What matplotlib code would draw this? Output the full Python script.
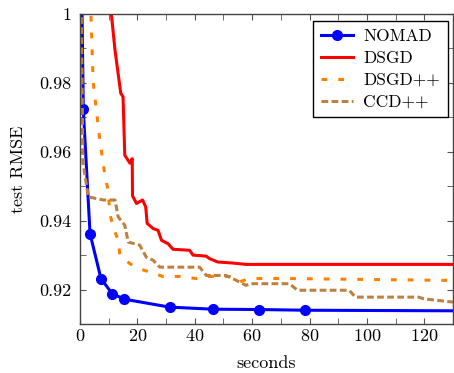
import matplotlib
matplotlib.use('Agg')
import matplotlib.pyplot as plt
from matplotlib.ticker import MultipleLocator, FuncFormatter

plt.rcParams['font.family'] = ['cmr10', 'DejaVu Serif']
plt.rcParams['axes.formatter.use_mathtext'] = True
plt.rcParams['font.size'] = 13

# NOMAD
nomad_t = [0.4, 1.15, 3.5, 7.3, 11.2, 15.5, 31.2, 46.3, 62.5, 78.4, 140]
nomad_y = [1.02, 0.9723, 0.9362, 0.9232, 0.9188, 0.9172, 0.9149, 0.9143, 0.9142, 0.9140,
           0.9138]

# DSGD
dsgd_t = [10.8, 12.2, 14.2, 15.0, 15.6, 17.4, 18.2, 18.3, 19.7, 21.8, 22.9, 23.4, 25.5,
          27.2, 28.4, 30.7, 32.4, 38.2, 39.4, 44.0, 45.1, 48.0, 53.2, 57.9, 135]
dsgd_y = [1.001, 0.9895, 0.977, 0.976, 0.959, 0.9567, 0.958, 0.9472, 0.945, 0.946, 0.944,
          0.9392, 0.9377, 0.9372, 0.9343, 0.9333, 0.9317, 0.9314, 0.930, 0.9297, 0.929,
          0.928, 0.9277, 0.9273, 0.9273]

# DSGD++
dsgdpp_t = [3.6, 4.6, 6.9, 8.7, 9.8, 10.4, 11.6, 13.3, 13.9, 17.4, 20.8, 24.3, 28.9,
            34.7, 40.5, 44.0, 52.0, 55.5, 59.0, 72.0, 135]
dsgdpp_y = [1.005, 0.980, 0.9634, 0.953, 0.9488, 0.942, 0.938, 0.9343, 0.930, 0.9275,
            0.926, 0.9251, 0.9238, 0.9238, 0.9232, 0.9238, 0.9238, 0.9222, 0.9232, 0.9232,
            0.9226]

# CCD++
ccdpp_t = [0.4, 0.6, 1.0, 2.9, 8.1, 12.2, 13.3, 15.6, 16.8, 20.8, 23.1, 25.5, 27.8, 41.7,
           44.0, 50.9, 54.4, 57.9, 59.0, 73.0, 75.8, 93.8, 96.0, 118.0, 119.8, 129.6, 135]
ccdpp_y = [1.002, 0.99, 0.957, 0.9469, 0.946, 0.946, 0.9411, 0.9387, 0.9338, 0.9329,
           0.9294, 0.9285, 0.9265, 0.9265, 0.9241, 0.9241, 0.9227, 0.9212, 0.9217, 0.9217,
           0.9198, 0.9198, 0.9178, 0.9178, 0.9173, 0.9164, 0.9162]

fig = plt.figure(figsize=(4.54, 3.73), dpi=100)
ax = fig.add_axes([80/454, 49/373, 373/454, 310/373])

ax.plot(nomad_t, nomad_y, color='#0000ff', lw=2.2, marker='o', ms=7, label='NOMAD')
ax.plot(dsgd_t, dsgd_y, color='#ff0000', lw=2.2, label='DSGD')
ax.plot(dsgdpp_t, dsgdpp_y, color='#ff8000', lw=2.2, ls=(0, (1.9, 3.6)), label='DSGD++')
ax.plot(ccdpp_t, ccdpp_y, color='#bf8040', lw=2.2, ls=(0, (2.2, 1.1)), label='CCD++')

ax.set_xlim(0, 130)
ax.set_ylim(0.91, 1.0)
ax.xaxis.set_major_locator(MultipleLocator(20))
ax.xaxis.set_minor_locator(MultipleLocator(10))
ax.yaxis.set_major_locator(MultipleLocator(0.02))
ax.yaxis.set_minor_locator(MultipleLocator(0.01))
ax.yaxis.set_major_formatter(FuncFormatter(lambda v, p: '%g' % round(v, 3)))
ax.tick_params(which='both', direction='in', top=True, right=True, color='#555555',
               labelsize=13)
ax.tick_params(which='major', length=4)
ax.tick_params(which='minor', length=4)
ax.tick_params(axis='x', which='major', pad=3)
ax.tick_params(axis='y', which='major', pad=6)
for s in ax.spines.values():
    s.set_color('#444444')
    s.set_linewidth(1.0)

ax.set_xlabel('seconds', labelpad=8)
ax.set_ylabel('test RMSE', labelpad=10)

leg = ax.legend(loc='upper right', fancybox=False, edgecolor='black', framealpha=1,
                fontsize=12.5, handlelength=1.85, borderpad=0.45, labelspacing=0.38,
                handletextpad=0.6, borderaxespad=0.3, bbox_to_anchor=(1.0, 0.995))
leg.get_frame().set_linewidth(1.0)

fig.savefig('out.png', dpi=100)
